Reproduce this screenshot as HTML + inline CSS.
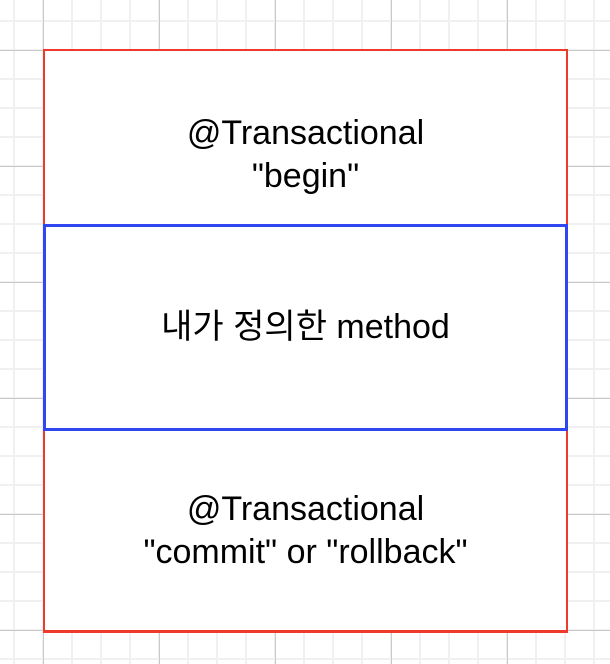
<!DOCTYPE html>
<html><head><meta charset="utf-8"><style>
html,body{margin:0;padding:0;width:610px;height:664px;overflow:hidden;background:#fff}
.grid{position:absolute;left:0;top:0;width:610px;height:664px;
background-image:
linear-gradient(to right,#c9c9c9 1px,transparent 1px),
linear-gradient(to bottom,#c9c9c9 1px,transparent 1px),
linear-gradient(to right,#f0f0f0 2px,transparent 2px),
linear-gradient(to bottom,#f0f0f0 2px,transparent 2px);
background-size:116px 116px,116px 116px,29px 29px,29px 29px;
background-position:43px 50px,43px 50px,13px 20px,13px 20px}
.box{position:absolute;box-sizing:border-box;display:flex;align-items:center;justify-content:center;text-align:center;
font-family:"Liberation Sans","Noto Sans CJK KR",sans-serif;font-size:34px;line-height:43px;color:#000;background:#fff}
</style></head><body>
<div class="grid"></div>
<div class="box" style="left:43px;top:49px;width:525px;height:584px;border:3px solid #ee3a2c"></div>
<div class="box" style="left:45px;top:51px;width:521px;height:174px;padding-top:34px">@Transactional<br>"begin"</div>
<div class="box" style="left:43px;top:224px;width:525px;height:207px;border:3px solid #2f46f0;background:transparent">내가 정의한 method</div>
<div class="box" style="left:45px;top:431px;width:521px;height:199px;padding-top:0">@Transactional<br>"commit" or "rollback"</div>
</body></html>
